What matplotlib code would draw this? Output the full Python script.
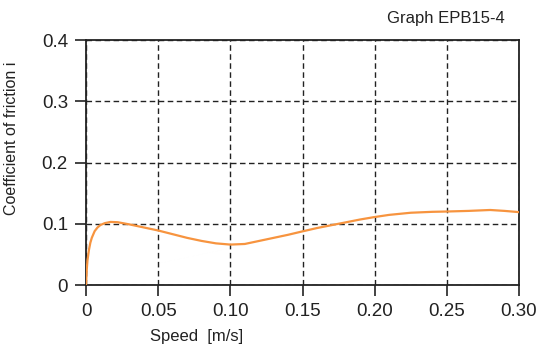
import matplotlib
matplotlib.use("Agg")
from matplotlib import pyplot as plt

plt.rcParams['font.family'] = ['Liberation Sans', 'DejaVu Sans']

# friction coefficient vs sliding speed
speed = [0.0, 0.0005, 0.001, 0.002, 0.003, 0.004, 0.006, 0.008, 0.010, 0.013,
         0.017, 0.022, 0.030, 0.040, 0.050, 0.060, 0.070, 0.080, 0.090, 0.100,
         0.110, 0.120, 0.130, 0.140, 0.150, 0.160, 0.175, 0.190, 0.200, 0.210,
         0.225, 0.240, 0.250, 0.265, 0.280, 0.290, 0.300]
friction = [0.0, 0.025, 0.040, 0.057, 0.069, 0.077, 0.088, 0.094, 0.098, 0.101,
            0.103, 0.1025, 0.099, 0.094, 0.089, 0.083, 0.077, 0.072, 0.068, 0.066,
            0.067, 0.072, 0.077, 0.082, 0.0876, 0.093, 0.100, 0.107, 0.111, 0.1145,
            0.118, 0.1195, 0.120, 0.121, 0.1225, 0.121, 0.119]

xticks = [0, 0.05, 0.10, 0.15, 0.20, 0.25, 0.30]
xtick_labels = ['0', '0.05', '0.10', '0.15', '0.20', '0.25', '0.30']
yticks = [0, 0.1, 0.2, 0.3, 0.4]
ytick_labels = ['0', '0.1', '0.2', '0.3', '0.4']

fig = plt.figure(figsize=(5.42, 3.54), dpi=100)
ax = fig.add_axes([0.1587, 0.1949, 0.7989, 0.692])

ax.plot(speed, friction, color='#f7943f', lw=1.6, zorder=3)

ax.set_xlim(0, 0.30)
ax.set_ylim(0, 0.4)
ax.set_xticks(xticks)
ax.set_xticklabels(xtick_labels)
ax.set_yticks(yticks)
ax.set_yticklabels(ytick_labels)
ax.tick_params(direction='out', length=8, width=1.2, labelsize=13.5, colors='#222222', pad=5)

ax.grid(True, color='#222222', ls=(0, (4, 2.5)), lw=1.0)
for sp in ax.spines.values():
    sp.set_linewidth(1.3)
    sp.set_color('#222222')

fig.text(0.022, 0.61, 'Coefficient of friction i', fontsize=11.5, color='#222222',
         rotation=90, ha='center', va='center')
fig.text(0.277, 0.05, 'Speed  [m/s]', fontsize=12, color='#222222', va='center')
fig.text(0.932, 0.948, 'Graph EPB15-4', fontsize=12, color='#222222', ha='right', va='center')

fig.savefig('out.png', dpi=100)
